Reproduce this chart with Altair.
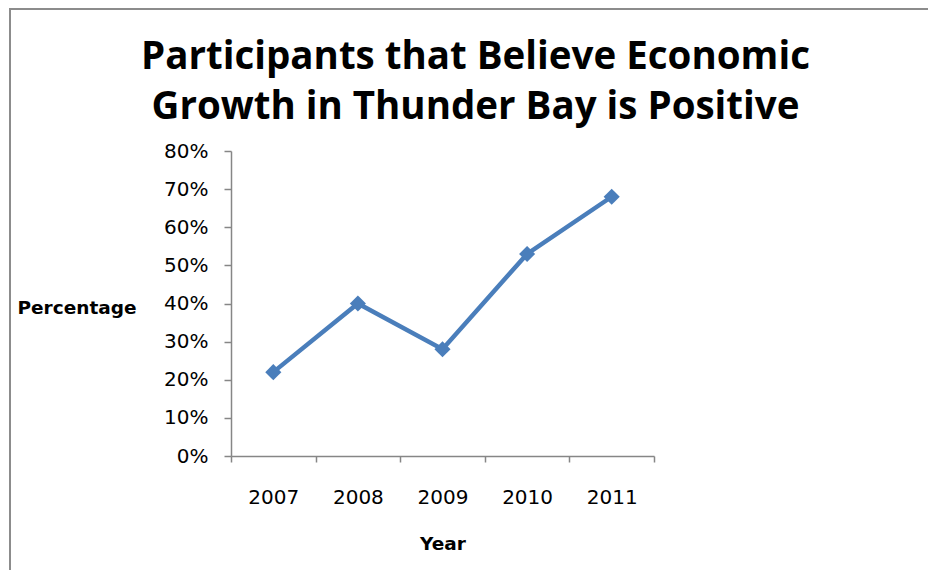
import altair as alt
import pandas as pd

years = ["2007", "2008", "2009", "2010", "2011"]
values = [0.22, 0.40, 0.28, 0.53, 0.68]
y_ticks = [0, 0.1, 0.2, 0.3, 0.4, 0.5, 0.6, 0.7, 0.8]

df = pd.DataFrame({"Year": years, "Percentage": values})

TFONT = "Open Sans"
FONT = "DejaVu Sans"
AX = "#868686"
BLUE = "#4A7EBB"

x_enc = alt.X(
    "Year:N",
    scale=alt.Scale(type="band", paddingInner=0, paddingOuter=0),
    axis=alt.Axis(
        title="Year", labelAngle=0, tickBand="extent", labelPadding=25,
        labelFontSize=20, labelFont=FONT, labelColor="#000",
        tickSize=6, tickColor=AX, domainColor=AX, domainWidth=1.5, tickWidth=1.5,
        titleFont=FONT, titleFontSize=18.5, titleFontWeight="bold",
        titleY=87, titleBaseline="middle", grid=False,
    ),
)
y_enc = alt.Y(
    "Percentage:Q",
    scale=alt.Scale(domain=[0, 0.8], nice=False),
    axis=alt.Axis(
        title="Percentage", values=y_ticks, format=".0%", labelPadding=16,
        labelFontSize=20, labelFont=FONT, labelColor="#000",
        tickSize=7, tickColor=AX, domainColor=AX, domainWidth=1.5, tickWidth=1.5,
        titleFont=FONT, titleFontSize=18.5, titleFontWeight="bold",
        titleAngle=0, titleAlign="left", titleBaseline="middle",
        titleX=-214, titleY=156, grid=False,
    ),
)

border = alt.Chart(pd.DataFrame({"a": [0]})).mark_rect(
    fillOpacity=0, stroke="#8c8c8c", strokeWidth=2
).encode(
    x=alt.value(-221), x2=alt.value(720), y=alt.value(-142), y2=alt.value(500)
)

line = alt.Chart(df).mark_line(color=BLUE, strokeWidth=4.5).encode(x=x_enc, y=y_enc)
pts = alt.Chart(df).mark_point(
    shape="diamond", filled=True, color=BLUE, size=260, opacity=1
).encode(x=x_enc, y=y_enc)

chart = alt.layer(border, line, pts).properties(
    width=423, height=305,
    background="white",
    autosize=alt.AutoSizeParams(type="none"),
    padding={"left": 231, "top": 151, "right": 274, "bottom": 114},
    title=alt.TitleParams(
        text=["Participants that Believe Economic", "Growth in Thunder Bay is Positive"],
        font=TFONT, fontSize=38.5, fontWeight="bold", color="#000",
        anchor="middle", frame="group", dx=33, dy=119, lineHeight=50, offset=0,
    ),
).configure_view(stroke="transparent", strokeWidth=0)

chart.save("out.html", embed_options={"renderer": "svg", "actions": False})
